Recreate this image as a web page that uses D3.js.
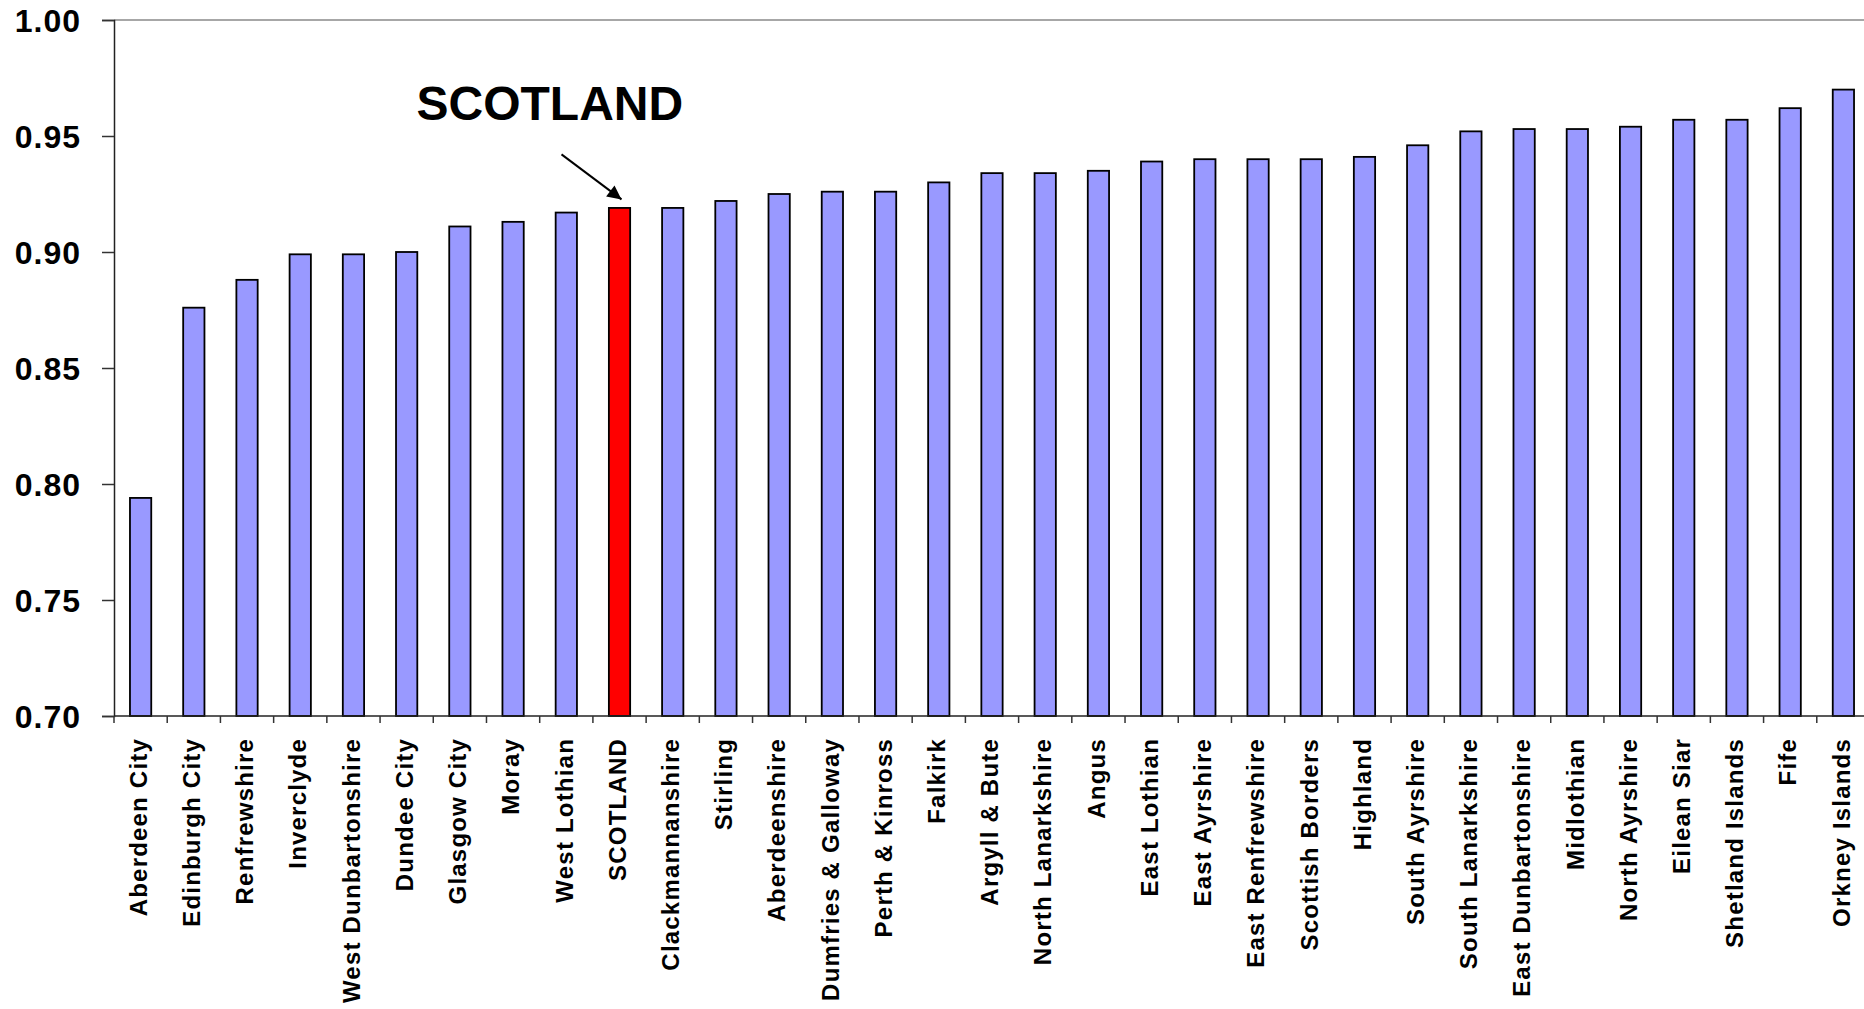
<!DOCTYPE html>
<html>
<head>
<meta charset="utf-8">
<script src="https://cdn.jsdelivr.net/npm/d3@7"></script>
<style>
  html, body { margin: 0; padding: 0; background: #fff; overflow: hidden; }
  svg { display: block; font-family: "Liberation Sans", Arial, sans-serif; }
</style>
</head>
<body>
<svg id="chart" width="1864" height="1009"></svg>
<script>
// ---- data ----
const categories = [
  "Aberdeen City", "Edinburgh City", "Renfrewshire", "Inverclyde", "West Dunbartonshire",
  "Dundee City", "Glasgow City", "Moray", "West Lothian", "SCOTLAND",
  "Clackmannanshire", "Stirling", "Aberdeenshire", "Dumfries & Galloway", "Perth & Kinross",
  "Falkirk", "Argyll & Bute", "North Lanarkshire", "Angus", "East Lothian",
  "East Ayrshire", "East Renfrewshire", "Scottish Borders", "Highland", "South Ayrshire",
  "South Lanarkshire", "East Dunbartonshire", "Midlothian", "North Ayrshire", "Eilean Siar",
  "Shetland Islands", "Fife", "Orkney Islands"
];
const values = [
  0.794, 0.876, 0.888, 0.899, 0.899,
  0.900, 0.911, 0.913, 0.917, 0.919,
  0.919, 0.922, 0.925, 0.926, 0.926,
  0.930, 0.934, 0.934, 0.935, 0.939,
  0.940, 0.940, 0.940, 0.941, 0.946,
  0.952, 0.953, 0.953, 0.954, 0.957,
  0.957, 0.962, 0.970
];
const highlighted = "SCOTLAND";
const annotationText = "SCOTLAND";
const yTicks = [0.70, 0.75, 0.80, 0.85, 0.90, 0.95, 1.00];
const yDomain = [0.70, 1.00];

// ---- layout ----
const svg = d3.select("#chart");
const plotLeft = 114, plotRight = 1870, plotTop = 20, plotBottom = 716;

const x = d3.scaleBand().domain(categories).range([plotLeft, plotRight])
  .paddingInner(0.6).paddingOuter(0.3);
const y = d3.scaleLinear().domain(yDomain).range([plotBottom, plotTop]);
const step = x.step();

// top border line of plot area
svg.append("line")
  .attr("x1", plotLeft).attr("x2", 1864)
  .attr("y1", y(yDomain[1])).attr("y2", y(yDomain[1]))
  .attr("stroke", "#8a8a8a").attr("stroke-width", 1.5);

// bars
svg.append("g").selectAll("rect")
  .data(categories)
  .join("rect")
  .attr("x", d => x(d))
  .attr("width", x.bandwidth())
  .attr("y", (d, i) => y(values[i]))
  .attr("height", (d, i) => y(yDomain[0]) - y(values[i]))
  .attr("fill", d => d === highlighted ? "#FF0000" : "#9999FF")
  .attr("stroke", "#000")
  .attr("stroke-width", 1.8);

// y axis
const yAxis = d3.axisLeft(y).tickValues(yTicks).tickFormat(d3.format(".2f"))
  .tickSize(12).tickPadding(21);
const gy = svg.append("g").attr("transform", `translate(${plotLeft},0)`).call(yAxis);
gy.select(".domain").attr("stroke", "#222").attr("stroke-width", 1.5);
gy.selectAll(".tick line").attr("stroke", "#333").attr("stroke-width", 1.5);
gy.selectAll(".tick text")
  .attr("fill", "#000")
  .style("font-family", "'Liberation Sans', Arial, sans-serif")
  .style("font-size", "32px")
  .style("font-weight", "bold")
  .style("letter-spacing", "1px")
  .attr("dy", "0.36em");

// x axis line
svg.append("line")
  .attr("x1", plotLeft).attr("x2", 1864)
  .attr("y1", y(yDomain[0])).attr("y2", y(yDomain[0]))
  .attr("stroke", "#222").attr("stroke-width", 1.5);

// x tick marks at band boundaries
const boundaries = categories.map(d => x(d) + x.bandwidth() / 2 - step / 2);
svg.append("g").selectAll("line")
  .data(boundaries)
  .join("line")
  .attr("x1", d => d).attr("x2", d => d)
  .attr("y1", y(yDomain[0])).attr("y2", y(yDomain[0]) + 7)
  .attr("stroke", "#333").attr("stroke-width", 1.5);

// x labels
svg.append("g").selectAll("text")
  .data(categories)
  .join("text")
  .attr("transform", d => `translate(${x(d) + x.bandwidth() / 2},${y(yDomain[0]) + 22}) rotate(-90)`)
  .attr("text-anchor", "end")
  .attr("dy", "0.26em")
  .style("font-size", "24px")
  .style("font-weight", "bold")
  .style("letter-spacing", "1.2px")
  .attr("fill", "#000")
  .text(d => d);

// annotation arrow
const defs = svg.append("defs");
defs.append("marker")
  .attr("id", "arrowhead")
  .attr("viewBox", "0 0 10 10")
  .attr("refX", 10).attr("refY", 5)
  .attr("markerWidth", 8).attr("markerHeight", 7)
  .attr("markerUnits", "strokeWidth")
  .attr("orient", "auto")
  .append("path").attr("d", "M0,0 L10,5 L0,10 z").attr("fill", "#000");

const hi = categories.indexOf(highlighted);
const tipX = x(highlighted) + x.bandwidth() / 2 + 2;
const tipY = y(values[hi]) - 8.5;
const startX = tipX - 60, startY = tipY - 45;
svg.append("line")
  .attr("x1", startX).attr("y1", startY)
  .attr("x2", tipX).attr("y2", tipY)
  .attr("stroke", "#000").attr("stroke-width", 2)
  .attr("marker-end", "url(#arrowhead)");

svg.append("text")
  .attr("x", startX - 145)
  .attr("y", startY - 34)
  .style("font-size", "48px")
  .style("font-weight", "bold")
  .attr("fill", "#000")
  .text(annotationText);
</script>
</body>
</html>
